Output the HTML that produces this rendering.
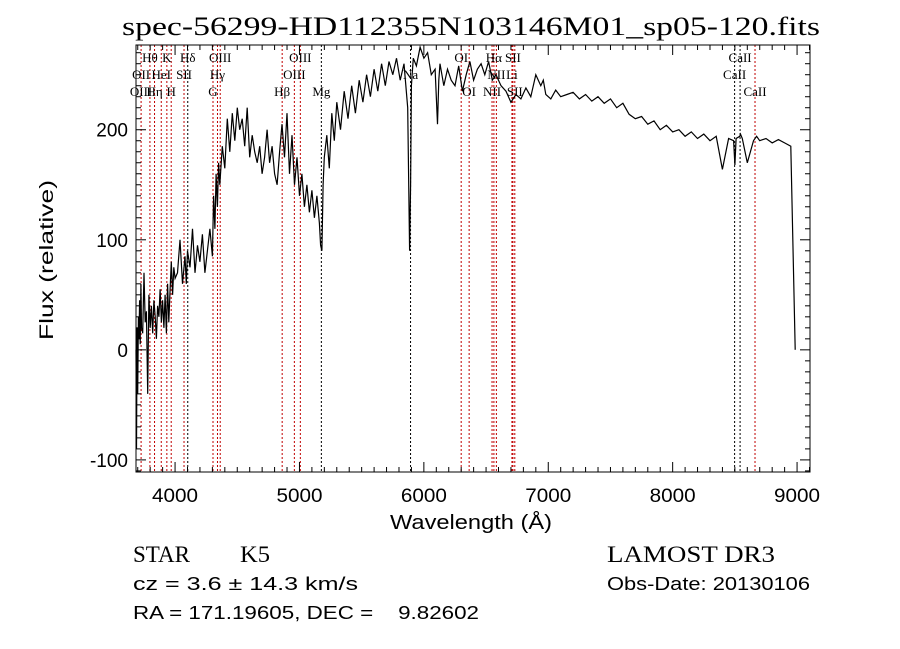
<!DOCTYPE html>
<html><head><meta charset="utf-8">
<style>
body{margin:0;background:#fff;}
svg{display:block;}
.t{font-family:"Liberation Sans Narrow","Liberation Sans",sans-serif;fill:#000;}
.s{font-family:"Liberation Serif",serif;fill:#000;}
</style></head>
<body>
<svg id="chart" width="900" height="649" viewBox="0 0 900 649" xmlns="http://www.w3.org/2000/svg">
<rect width="900" height="649" fill="#fff"/>
<text x="122" y="35" textLength="698" lengthAdjust="spacingAndGlyphs" class="s" font-size="26">spec-56299-HD112355N103146M01_sp05-120.fits</text>
<g id="lines"></g>
<g id="spec"></g>
<rect x="136" y="45" width="674" height="427" fill="none" stroke="#000" stroke-width="1"/>
<g id="ticks"></g>
<text x="390" y="529" textLength="162" lengthAdjust="spacingAndGlyphs" class="t" font-size="20">Wavelength (Å)</text>
<text transform="translate(53,260) rotate(-90)" text-anchor="middle" textLength="160" lengthAdjust="spacingAndGlyphs" class="t" font-size="19">Flux (relative)</text>
<text x="133" y="562" textLength="57" lengthAdjust="spacingAndGlyphs" class="s" font-size="23">STAR</text>
<text x="240" y="562" textLength="30" lengthAdjust="spacingAndGlyphs" class="s" font-size="23">K5</text>
<text x="607" y="562" textLength="168" lengthAdjust="spacingAndGlyphs" class="s" font-size="23">LAMOST DR3</text>
<text x="133" y="590" textLength="225" lengthAdjust="spacingAndGlyphs" class="t" font-size="18">cz = 3.6 ± 14.3 km/s</text>
<text x="607" y="590" textLength="203" lengthAdjust="spacingAndGlyphs" class="t" font-size="18">Obs-Date: 20130106</text>
<text x="133" y="619" textLength="346" lengthAdjust="spacingAndGlyphs" class="t" font-size="18" style="white-space:pre" xml:space="preserve">RA = 171.19605, DEC =    9.82602</text>
</svg>
<script>
const xTicks=[4000,5000,6000,7000,8000,9000];
const yTicks=[-100,0,100,200];
const lineWl=[3727,3798,3835,3889,3934,3969,4072,4102,4305,4341,4363,4861,4959,5007,5176,5893,6300,6364,6548,6563,6583,6708,6716,6731,8498,8542,8662];
const lineBlack=[0,0,0,0,0,0,0,1,0,0,0,0,0,0,1,1,0,0,0,0,0,0,0,0,1,1,0];
const labels=[["Hθ",3798,0],["K",3934,0],["Hδ",4102,0],["OIII",4363,0],["OIII",5007,0],["OI",6300,0],["Hα",6563,0],["SII",6716,0],["CaII",8542,0],
["OII",3727,1],["HeI",3889,1],["SII",4072,1],["Hγ",4341,1],["OIII",4959,1],["Na",5893,1],["NII",6583,1],["Li",6708,1],["CaII",8498,1],
["OIII",3727,2],["Hη",3835,2],["H",3969,2],["G",4305,2],["Hβ",4861,2],["Mg",5176,2],["OI",6364,2],["NII",6548,2],["SII",6731,2],["CaII",8662,2]];
const wl=[3686,3690,3695,3700,3705,3710,3715,3720,3725,3730,3740,3750,3760,3770,3780,3790,3800,3810,3820,3830,3840,3850,3860,3870,3880,3890,3900,3910,3920,3930,3940,3950,3960,3970,3980,3990,4000,4020,4040,4060,4080,4090,4100,4120,4140,4160,4180,4200,4220,4240,4260,4280,4300,4310,4320,4330,4340,4350,4360,4380,4400,4420,4440,4460,4480,4500,4520,4540,4560,4580,4600,4620,4640,4660,4680,4700,4720,4740,4760,4780,4800,4820,4840,4860,4880,4900,4920,4940,4960,4980,5000,5020,5040,5060,5080,5100,5120,5140,5160,5170,5180,5190,5200,5220,5240,5260,5280,5300,5330,5360,5390,5420,5450,5480,5510,5540,5570,5600,5630,5660,5690,5720,5750,5780,5810,5840,5870,5885,5893,5900,5915,5940,5970,6000,6030,6060,6090,6110,6120,6130,6160,6190,6220,6250,6280,6310,6340,6370,6400,6430,6460,6490,6520,6550,6580,6620,6660,6700,6740,6780,6820,6860,6900,6940,6960,6980,7020,7060,7100,7150,7200,7250,7300,7350,7400,7450,7500,7550,7600,7650,7700,7750,7800,7850,7900,7950,8000,8050,8100,8150,8200,8250,8300,8350,8400,8450,8490,8500,8510,8540,8545,8560,8600,8650,8662,8675,8700,8750,8800,8850,8900,8950,8985,8995,9000];
const flux=[0,-90,20,-40,30,10,45,5,60,20,15,70,25,35,-40,50,20,40,15,45,30,10,40,30,55,25,45,20,50,15,60,25,55,80,50,75,65,70,100,60,85,60,90,75,110,70,95,80,105,70,90,110,85,140,110,160,130,170,150,185,165,210,180,215,190,220,200,210,185,220,175,195,180,170,185,160,175,200,170,185,160,150,180,205,175,215,160,195,150,175,140,160,130,150,125,145,120,140,115,95,90,150,175,195,165,215,190,225,200,235,210,240,215,245,225,250,230,255,235,260,240,262,250,265,245,260,220,90,150,240,265,258,275,265,270,250,255,205,245,260,240,255,245,240,258,235,250,262,245,255,260,250,262,245,250,240,235,225,232,228,238,230,250,240,245,232,228,236,230,232,234,228,232,226,230,224,228,220,224,214,210,212,205,208,200,204,198,200,194,198,192,196,190,194,164,192,190,168,192,194,196,192,170,190,192,194,190,192,188,191,188,185,0];
const X0=136,X1=810,Y0=45,Y1=472,XMIN=3686,XMAX=9104,YMIN=-111,YMAX=277;
const sx=v=>X0+(v-XMIN)/(XMAX-XMIN)*(X1-X0);
const sy=v=>Y1-(v-YMIN)/(YMAX-YMIN)*(Y1-Y0);
const NS="http://www.w3.org/2000/svg";
const mk=(t,a,p)=>{const e=document.createElementNS(NS,t);for(const k in a)e.setAttribute(k,a[k]);p.appendChild(e);return e;};
const gL=document.getElementById('lines'),gS=document.getElementById('spec'),gT=document.getElementById('ticks');
lineWl.forEach((w,i)=>{
 const l=mk('line',{x1:sx(w),x2:sx(w),y1:Y0,y2:Y1,stroke:lineBlack[i]?'#000':'#c00000','stroke-width':1,'stroke-dasharray':'2,2'},gL);
 
 
});
labels.forEach(([s,w,r])=>{
 const t=mk('text',{x:sx(w),y:62+r*17,'text-anchor':'middle',class:'s','font-size':13},gL);
 t.textContent=s;
 
 
});
let d='';wl.forEach((w,i)=>{d+=(i?'L':'M')+sx(w).toFixed(1)+','+sy(flux[i]).toFixed(1);});
const p=mk('path',{d:d,fill:'none',stroke:'#000','stroke-width':1.2},gS);


for(let w=3700;w<=9100;w+=100){const maj=w%1000===0;const L=maj?10:5;
 mk('line',{x1:sx(w),x2:sx(w),y1:Y1,y2:Y1-L,stroke:'#000'},gT);
 mk('line',{x1:sx(w),x2:sx(w),y1:Y0,y2:Y0+L,stroke:'#000'},gT);}
for(let v=-110;v<=270;v+=10){const maj=v%100===0;const L=maj?10:5;
 mk('line',{x1:X0,x2:X0+L,y1:sy(v),y2:sy(v),stroke:'#000'},gT);
 mk('line',{x1:X1,x2:X1-L,y1:sy(v),y2:sy(v),stroke:'#000'},gT);}
xTicks.forEach(v=>{const t=mk('text',{x:sx(v),y:502,'text-anchor':'middle',class:'t','font-size':19,textLength:46,lengthAdjust:'spacingAndGlyphs'},gT);t.textContent=v;
 
 });
yTicks.forEach(v=>{const t=mk('text',{x:128,y:sy(v)+7,'text-anchor':'end',class:'t','font-size':19},gT);t.textContent=v;
 
 });
</script>
</body></html>
